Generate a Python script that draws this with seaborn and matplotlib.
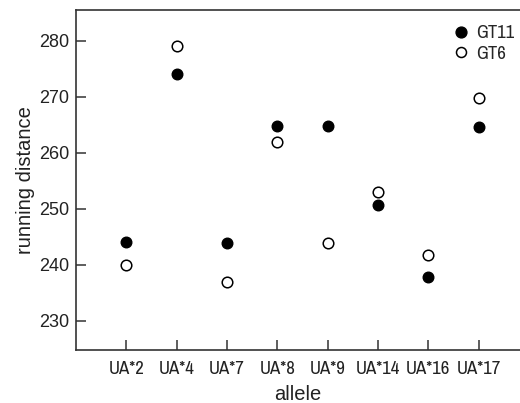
import matplotlib
matplotlib.use("Agg")
import matplotlib.pyplot as plt
import seaborn as sns
import pandas as pd
from matplotlib.lines import Line2D
from matplotlib import font_manager

alleles = ["UA*2", "UA*4", "UA*7", "UA*8", "UA*9", "UA*14", "UA*16", "UA*17"]
gt11 = [244.1, 274.1, 243.9, 264.8, 264.8, 250.7, 237.9, 264.7]
gt6 = [240.0, 279.1, 237.0, 262.0, 243.9, 253.0, 241.8, 269.8]

sns.set_theme(style="white")
plt.rcParams["font.family"] = ["Liberation Sans", "DejaVu Sans"]

# look for a condensed face
narrow = None
for f in font_manager.fontManager.ttflist:
    fn = f.fname.lower()
    if "narrow" in fn and "bold" not in fn and "italic" not in fn:
        narrow = f.fname
        break
if narrow is None:
    for f in font_manager.fontManager.ttflist:
        fn = f.fname.lower()
        if "condensed" in fn and "sans" in fn and "bold" not in fn and "oblique" not in fn and "mono" not in fn:
            narrow = f.fname
            break

if narrow is not None:
    xfont = font_manager.FontProperties(fname=narrow, size=13.5)
    legfont = font_manager.FontProperties(fname=narrow, size=13.5)
else:
    xfont = font_manager.FontProperties(family="Liberation Sans", size=11)
    legfont = font_manager.FontProperties(family="Liberation Sans", size=11)

df = pd.DataFrame({
    "allele": alleles * 2,
    "running distance": gt11 + gt6,
    "strain": ["GT11"] * len(alleles) + ["GT6"] * len(alleles),
})

fig = plt.figure(figsize=(5.2, 4.03), dpi=100)
ax = fig.add_axes([0.146, 0.1315, 0.854, 0.8435])

sns.scatterplot(data=df[df.strain == "GT11"], x="allele", y="running distance",
                ax=ax, color="black", edgecolor="black", s=58, linewidth=1, zorder=3)
sns.scatterplot(data=df[df.strain == "GT6"], x="allele", y="running distance",
                ax=ax, color="white", edgecolor="black", s=58, linewidth=1.1, zorder=3)

ax.set_xlim(-1, 7.82)
ax.set_ylim(224.8, 285.5)
ax.set_yticks([230, 240, 250, 260, 270, 280])
ax.set_xticks(range(len(alleles)))
ax.set_xticklabels(alleles, fontproperties=xfont)

for s in ["left", "bottom", "top"]:
    ax.spines[s].set_visible(True)
    ax.spines[s].set_color("#333333")
    ax.spines[s].set_linewidth(1.2)
ax.spines["right"].set_visible(False)

ax.tick_params(axis="both", direction="in", length=7, width=1.1, color="#333333",
               labelcolor="#222222", bottom=True, left=True, top=False, right=False)
ax.tick_params(axis="y", labelsize=13, pad=5)
ax.tick_params(axis="x", pad=8)

ax.set_xlabel("allele", fontsize=14.5, color="#222222", labelpad=6)
ax.set_ylabel("running distance", fontsize=14.5, color="#222222", labelpad=3)

handles = [
    Line2D([], [], marker="o", linestyle="none", markerfacecolor="black",
           markeredgecolor="black", markersize=7.8, label="GT11"),
    Line2D([], [], marker="o", linestyle="none", markerfacecolor="white",
           markeredgecolor="black", markersize=7.2, markeredgewidth=1.1, label="GT6"),
]
ax.legend(handles=handles, loc="upper right", frameon=False, prop=legfont,
          handletextpad=0.2, labelspacing=0.22, bbox_to_anchor=(1.007, 0.98),
          borderaxespad=0.05, handlelength=1.2)

fig.savefig("out.png", dpi=100)
